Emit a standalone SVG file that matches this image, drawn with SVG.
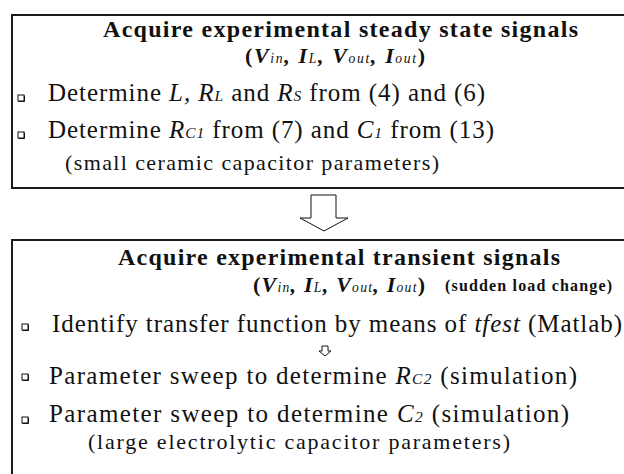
<svg xmlns="http://www.w3.org/2000/svg" width="624" height="474" viewBox="0 0 624 474">
<style>
text{font-family:"Liberation Serif","Times New Roman","DejaVu Serif",serif;fill:#111}
.t{font-size:24px;font-weight:bold}
.v{font-size:22px;font-weight:bold}
.b{font-size:25px}
.n{font-size:22px}
.s{font-size:16px;font-weight:bold}
.i{font-style:italic}
.sub{font-size:62%;font-style:italic;font-weight:normal}
.box{fill:#fff;stroke:#1a1a1a;stroke-width:2}
.bul{fill:#fff;stroke:#111;stroke-width:1}
.arr{fill:#fff;stroke:#111;stroke-width:1}
</style>
<defs>
<g id="bullet"><rect class="bul" x="-3" y="-3" width="6" height="6"/><path d="M-2.5,3.5 H3.5 V-2.5" fill="none" stroke="#111" stroke-width="1"/></g>
</defs>
<g id="node-steady">
<rect class="box" x="12" y="15" width="640" height="173"/>
<text class="t" x="103" y="37" textLength="475">Acquire experimental steady state signals</text>
<text class="v" x="245" y="63" textLength="180">(<tspan class="i">V</tspan><tspan class="sub">in</tspan><tspan class="i">, I</tspan><tspan class="sub">L</tspan><tspan class="i">, V</tspan><tspan class="sub">out</tspan><tspan class="i">, I</tspan><tspan class="sub">out</tspan>)</text>
<use href="#bullet" x="21" y="98"/>
<text class="b" x="48" y="101" textLength="437">Determine <tspan class="i">L, R</tspan><tspan class="sub">L</tspan> and <tspan class="i">R</tspan><tspan class="sub">S</tspan> from (4) and (6)</text>
<use href="#bullet" x="21" y="135"/>
<text class="b" x="48" y="138" textLength="446">Determine <tspan class="i">R</tspan><tspan class="sub">C1</tspan> from (7) and <tspan class="i">C</tspan><tspan class="sub">1</tspan> from (13)</text>
<text class="n" x="65" y="170" textLength="374">(small ceramic capacitor parameters)</text>
</g>
<g id="connectors">
<polygon class="arr" points="311,195 336,195 336,218 348,218 324,231 300,218 311,218"/>
</g>
<g id="node-transient">
<rect class="box" x="12" y="240" width="640" height="260"/>
<text class="t" x="118" y="265" textLength="442">Acquire experimental transient signals</text>
<text class="v" x="253" y="292" textLength="172">(<tspan class="i">V</tspan><tspan class="sub">in</tspan><tspan class="i">, I</tspan><tspan class="sub">L</tspan><tspan class="i">, V</tspan><tspan class="sub">out</tspan><tspan class="i">, I</tspan><tspan class="sub">out</tspan>)</text>
<text class="s" x="445" y="291" textLength="167">(sudden load change)</text>
<use href="#bullet" x="25" y="327"/>
<text class="b" x="52" y="332" textLength="570">Identify transfer function by means of <tspan class="i">tfest</tspan> (Matlab)</text>
<polygon class="arr" points="322,346 328,346 328,351 331,351 325,356 319,351 322,351"/>
<use href="#bullet" x="25" y="377"/>
<text class="b" x="49" y="384" textLength="528">Parameter sweep to determine  <tspan class="i">R</tspan><tspan class="sub">C2</tspan> (simulation)</text>
<use href="#bullet" x="25" y="420"/>
<text class="b" x="49" y="422" textLength="520">Parameter sweep to determine  <tspan class="i">C</tspan><tspan class="sub">2</tspan> (simulation)</text>
<text class="n" x="88" y="449" textLength="422">(large electrolytic capacitor parameters)</text>
</g>
</svg>
